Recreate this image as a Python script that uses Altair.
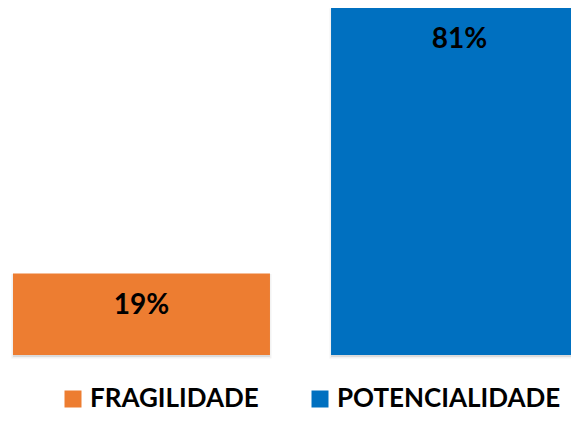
import altair as alt
import pandas as pd

categories = ["FRAGILIDADE", "POTENCIALIDADE"]
values = [19, 81]
labels = ["19%", "81%"]
colors = ["#ED7D31", "#0070C0"]

df = pd.DataFrame({"cat": categories, "val": values, "label": labels})

x_enc = alt.X("cat:N", sort=categories, axis=None,
              scale=alt.Scale(range=[0, 585], paddingInner=0.192, paddingOuter=0.0157))
y_scale = alt.Scale(domain=[0, 81], range=[347, 0])

shadow = alt.Chart(df).mark_bar(clip=True, color="#9a9a9a", opacity=0.35,
                                stroke="#9a9a9a", strokeWidth=3, strokeOpacity=0.35,
                                yOffset=2).encode(
    x=x_enc,
    y=alt.Y("val:Q", scale=y_scale, axis=None),
)

bars = alt.Chart(df).mark_bar(clip=True).encode(
    x=x_enc,
    y=alt.Y("val:Q", scale=y_scale, axis=None),
    color=alt.Color("cat:N", sort=categories,
                    scale=alt.Scale(domain=categories, range=colors),
                    legend=alt.Legend(
                        title=None, orient="none", legendX=52, legendY=378,
                        direction="horizontal", symbolType="square", symbolSize=289,
                        symbolStrokeWidth=0, labelFont="Lato", labelFontWeight="bold",
                        labelFontSize=26, labelColor="black", labelOffset=4,
                        columnPadding=48, padding=0, labelLimit=400)),
)

text = alt.Chart(df).mark_text(font="Lato", fontWeight="bold", fontSize=28,
                               color="black", baseline="middle", dy=32, clip=True).encode(
    x=x_enc,
    y=alt.Y("val:Q", scale=y_scale),
    text="label:N",
)

chart = (shadow + bars + text).properties(width=563, height=405, padding=0,
                                          autosize=alt.AutoSizeParams(type="none")).configure_view(stroke=None)

chart.save("out.html", embed_options={"renderer": "svg", "actions": False})
